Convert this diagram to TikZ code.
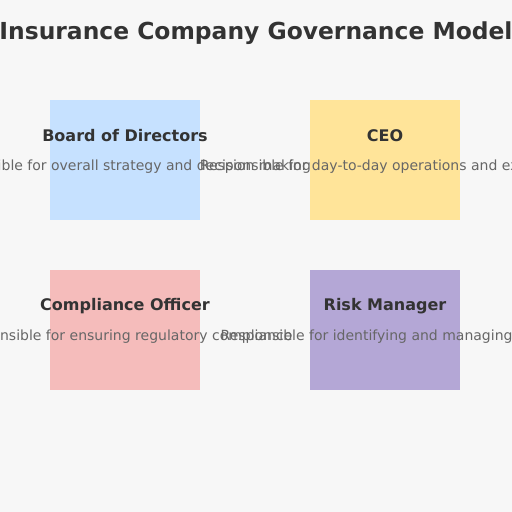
\documentclass[tikz,border=0pt]{standalone}
\usepackage{fontspec}
\setmainfont{DejaVu Sans}
\definecolor{bg}{HTML}{F7F7F7}
\definecolor{titlec}{HTML}{333333}
\definecolor{descc}{HTML}{666666}
\definecolor{cblue}{HTML}{C6E1FF}
\definecolor{cyellow}{HTML}{FFE499}
\definecolor{cpink}{HTML}{F5BCBB}
\definecolor{cpurple}{HTML}{B4A7D6}
\tikzset{
  rolebox/.style={minimum width=150bp, minimum height=120bp, inner sep=0pt, draw=none},
  roletitle/.style={font=\fontsize{16bp}{18bp}\selectfont\bfseries, text=titlec, inner sep=0pt, anchor=center},
  roledesc/.style={font=\fontsize{14bp}{16bp}\selectfont, text=descc, inner sep=0pt, anchor=center},
  maintitle/.style={font=\fontsize{23.4bp}{28bp}\selectfont\bfseries, text=titlec, inner sep=0pt, anchor=center}
}
\begin{document}
\begin{tikzpicture}[x=1bp,y=-1bp]
\fill[bg] (0,0) rectangle (512,512);
\useasboundingbox (0,0) rectangle (512,512);
\node[maintitle] (title) at (256,33.5) {Insurance Company Governance Model};
\node[rolebox, fill=cblue] (board) at (125,160) {};
\node[rolebox, fill=cyellow] (ceo) at (385,160) {};
\node[rolebox, fill=cpink] (comp) at (125,330) {};
\node[rolebox, fill=cpurple] (risk) at (385,330) {};
\node[roletitle] (boardt) at (125,136) {Board of Directors};
\node[roletitle] (ceot) at (385,136) {CEO};
\node[roletitle] (compt) at (125,306) {Compliance Officer};
\node[roletitle] (riskt) at (385,306) {Risk Manager};
\node[roledesc] (boardd) at (125,166.5) {Responsible for overall strategy and decision making};
\node[roledesc] (ceod) at (385,166.5) {Responsible for day-to-day operations and execution};
\node[roledesc] (compd) at (125,336.5) {Responsible for ensuring regulatory compliance};
\node[roledesc] (riskd) at (385,336.5) {Responsible for identifying and managing risks};
\end{tikzpicture}
\end{document}
